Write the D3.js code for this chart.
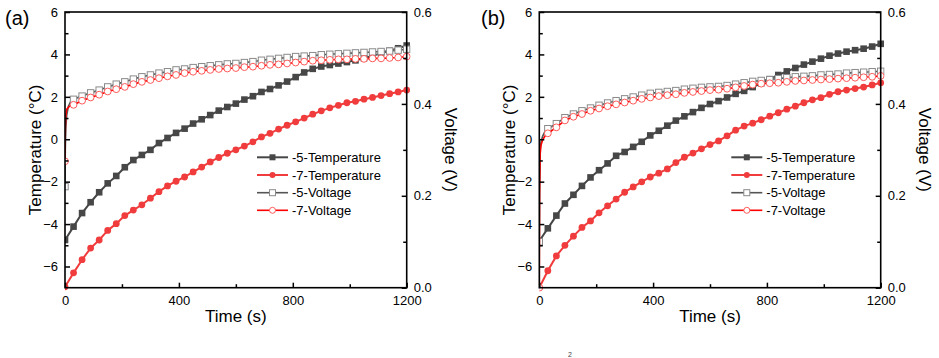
<!DOCTYPE html>
<html><head><meta charset="utf-8">
<script src="https://cdn.jsdelivr.net/npm/d3@7"></script>
<style>
body{margin:0;background:#fff}
text{font-family:"Liberation Sans",Arial,sans-serif}
</style>
</head><body>
<svg id="c" width="939" height="358"></svg>
<script>
// ---------- data ----------
const timeS = [0,30,60,90,120,150,180,210,240,270,300,330,360,390,420,450,480,510,540,570,600,630,660,690,720,750,780,810,840,870,900,930,960,990,1020,1050,1080,1110,1140,1170,1200];
const earlyTime = [0,1,3,6,12,20];

const tempA5 = [-4.75,-4.12,-3.48,-2.97,-2.5,-2.08,-1.73,-1.32,-0.98,-0.74,-0.5,-0.18,0.06,0.3,0.5,0.74,0.94,1.14,1.35,1.52,1.68,1.87,2.03,2.23,2.37,2.54,2.72,2.93,3.15,3.32,3.43,3.5,3.57,3.64,3.72,3.82,3.93,4.06,4.17,4.29,4.42];
const tempA7 = [-6.96,-6.3,-5.68,-5.13,-4.75,-4.3,-3.98,-3.6,-3.34,-3.09,-2.78,-2.47,-2.2,-1.98,-1.78,-1.54,-1.31,-1.07,-0.86,-0.66,-0.5,-0.32,-0.12,0.11,0.28,0.48,0.66,0.82,1.0,1.18,1.34,1.48,1.6,1.72,1.79,1.89,1.97,2.06,2.15,2.23,2.32];
const voltA5 = [0.22,0.41,0.417,0.424,0.43,0.437,0.443,0.448,0.454,0.459,0.463,0.467,0.47,0.474,0.476,0.479,0.481,0.483,0.485,0.487,0.488,0.49,0.492,0.495,0.497,0.499,0.501,0.503,0.504,0.505,0.507,0.508,0.509,0.51,0.511,0.512,0.513,0.514,0.515,0.517,0.519];
const voltA7 = [0.275,0.398,0.407,0.414,0.42,0.427,0.432,0.437,0.443,0.448,0.452,0.456,0.46,0.463,0.467,0.47,0.472,0.474,0.476,0.477,0.478,0.48,0.481,0.483,0.485,0.486,0.488,0.49,0.492,0.494,0.495,0.496,0.497,0.497,0.498,0.498,0.499,0.499,0.5,0.501,0.503];
const earlyVoltA5 = [0.22,0.3,0.35,0.375,0.395,0.405];
const earlyVoltA7 = [0.275,0.34,0.375,0.388,0.393,0.396];

const tempB5 = [-4.8,-4.2,-3.6,-3.03,-2.62,-2.2,-1.8,-1.46,-1.14,-0.78,-0.6,-0.36,-0.12,0.18,0.4,0.64,0.88,1.08,1.28,1.48,1.66,1.8,1.97,2.14,2.28,2.46,2.64,2.83,3.03,3.2,3.36,3.52,3.66,3.8,3.94,4.04,4.13,4.2,4.27,4.37,4.5];
const tempB7 = [-7.0,-6.2,-5.5,-5.0,-4.57,-4.16,-3.85,-3.47,-3.14,-2.82,-2.5,-2.25,-2.01,-1.78,-1.6,-1.4,-1.1,-0.85,-0.65,-0.45,-0.25,-0.08,0.16,0.43,0.62,0.76,0.92,1.09,1.25,1.42,1.56,1.72,1.86,1.96,2.12,2.24,2.32,2.39,2.46,2.56,2.66];
const voltB5 = [0.1,0.346,0.357,0.37,0.378,0.385,0.391,0.397,0.402,0.407,0.411,0.415,0.419,0.423,0.425,0.427,0.429,0.432,0.434,0.436,0.437,0.438,0.44,0.443,0.446,0.449,0.451,0.453,0.455,0.457,0.459,0.46,0.461,0.463,0.464,0.465,0.467,0.468,0.469,0.47,0.471];
const voltB7 = [0.0,0.336,0.349,0.364,0.372,0.378,0.385,0.39,0.395,0.399,0.403,0.407,0.411,0.414,0.417,0.419,0.421,0.424,0.426,0.428,0.43,0.431,0.433,0.436,0.439,0.442,0.444,0.445,0.446,0.448,0.45,0.451,0.452,0.453,0.454,0.455,0.456,0.457,0.458,0.459,0.461];
const earlyVoltB5 = [0.1,0.22,0.3,0.318,0.33,0.34];
const earlyVoltB7 = [0.0,0.2,0.29,0.31,0.322,0.33];

const tempTicks = [-6,-4,-2,0,2,4,6];
const tempMinor = [-5,-3,-1,1,3,5];
const voltTicks = [0,0.2,0.4,0.6];
const voltMinor = [0.1,0.3,0.5];
const timeTicks = [0,400,800,1200];
const timeMinor = [200,600,1000];

const seriesNames = ["-5-Temperature","-7-Temperature","-5-Voltage","-7-Voltage"];
const panelLabels = ["(a)","(b)"];
const xTitle = "Time (s)";
const yTitle = "Temperature (°C)";
const y2Title = "Voltage (V)";

// ---------- styles ----------
const C_T5 = "#474747", C_T7 = "#f03c3c", C_V5 = "#555555", C_V5m = "#8a8a8a", C_V7 = "#ff0000", C_V7m = "#ff5a5a";

const svg = d3.select("#c");

function drawPanel(left, right, label, t5, t7, v5, v7, ev5, ev7, labelX){
  const top = 12, bottom = 287.7;
  const x = d3.scaleLinear().domain([0,1200]).range([left,right]);
  const y = d3.scaleLinear().domain([-7,6]).range([bottom,top]);
  const y2 = d3.scaleLinear().domain([0,0.6]).range([bottom,top]);
  const g = svg.append("g");

  const lineT = d3.line().x(d=>x(d[0])).y(d=>y(d[1]));
  const lineV = d3.line().x(d=>x(d[0])).y(d=>y2(d[1]));
  const dT5 = timeS.map((t,i)=>[t,t5[i]]);
  const dT7 = timeS.map((t,i)=>[t,t7[i]]);
  const dV5 = timeS.map((t,i)=>[t,v5[i]]);
  const dV7 = timeS.map((t,i)=>[t,v7[i]]);
  const lV5 = earlyTime.map((t,i)=>[t,ev5[i]]).concat(dV5.slice(1));
  const lV7 = earlyTime.map((t,i)=>[t,ev7[i]]).concat(dV7.slice(1));

  const clipId = "clip"+Math.round(left);
  svg.append("clipPath").attr("id",clipId).append("rect")
    .attr("x",left).attr("y",top-4).attr("width",right-left+4).attr("height",bottom-top+8);
  const pg = g.append("g").attr("clip-path",`url(#${clipId})`);

  pg.append("path").datum(dT5).attr("d",lineT).attr("fill","none").attr("stroke",C_T5).attr("stroke-width",2);
  pg.selectAll(".mt5").data(dT5).enter().append("rect")
    .attr("x",d=>x(d[0])-3.3).attr("y",d=>y(d[1])-3.3).attr("width",6.6).attr("height",6.6).attr("fill",C_T5);
  pg.append("path").datum(dT7).attr("d",lineT).attr("fill","none").attr("stroke",C_T7).attr("stroke-width",2);
  pg.selectAll(".mt7").data(dT7).enter().append("circle")
    .attr("cx",d=>x(d[0])).attr("cy",d=>y(d[1])).attr("r",3.4).attr("fill",C_T7);

  pg.append("path").datum(lV5).attr("d",lineV).attr("fill","none").attr("stroke",C_V5).attr("stroke-width",1.6);
  pg.selectAll(".mv5").data(dV5).enter().append("rect")
    .attr("x",d=>x(d[0])-3.2).attr("y",d=>y2(d[1])-3.2).attr("width",6.4).attr("height",6.4)
    .attr("fill","#fff").attr("stroke",C_V5m).attr("stroke-width",1);
  pg.append("path").datum(lV7).attr("d",lineV).attr("fill","none").attr("stroke",C_V7).attr("stroke-width",1.6);
  pg.selectAll(".mv7").data(dV7).enter().append("circle")
    .attr("cx",d=>x(d[0])).attr("cy",d=>y2(d[1])).attr("r",3.4)
    .attr("fill","#fff").attr("stroke",C_V7m).attr("stroke-width",1);

  const axStyle = a => { a.select(".domain").remove(); a.selectAll("line").attr("stroke","#000").attr("stroke-width",1.5);
    a.selectAll("text").attr("font-size",13).attr("fill","#000").attr("font-family",'"Liberation Sans",Arial,sans-serif'); };
  g.append("g").attr("transform",`translate(${left},0)`)
    .call(d3.axisLeft(y).tickValues(tempTicks).tickSize(-5).tickPadding(7).tickFormat(d3.format("d"))).call(axStyle);
  g.append("g").attr("transform",`translate(${left},0)`)
    .call(d3.axisLeft(y).tickValues(tempMinor).tickSize(-3.5).tickFormat("")).call(axStyle);
  g.append("g").attr("transform",`translate(${right},0)`)
    .call(d3.axisRight(y2).tickValues(voltTicks).tickSize(-5).tickPadding(7).tickFormat(d3.format(".1f"))).call(axStyle);
  g.append("g").attr("transform",`translate(${right},0)`)
    .call(d3.axisRight(y2).tickValues(voltMinor).tickSize(-3.5).tickFormat("")).call(axStyle);
  g.append("g").attr("transform",`translate(0,${bottom})`)
    .call(d3.axisBottom(x).tickValues(timeTicks).tickSize(-5).tickPadding(8).tickFormat(d3.format("d"))).call(axStyle);
  g.append("g").attr("transform",`translate(0,${bottom})`)
    .call(d3.axisBottom(x).tickValues(timeMinor).tickSize(-3.5).tickFormat("")).call(axStyle);

  g.append("rect").attr("x",left).attr("y",top).attr("width",right-left).attr("height",bottom-top)
    .attr("fill","none").attr("stroke","#000").attr("stroke-width",1.6);

  g.append("text").attr("x",(left+right)/2).attr("y",322).attr("text-anchor","middle").attr("font-size",17).text(xTitle);
  g.append("text").attr("transform",`translate(${left-30},${(top+bottom)/2}) rotate(-90)`)
    .attr("text-anchor","middle").attr("dy","0.35em").attr("font-size",17).text(yTitle);
  g.append("text").attr("transform",`translate(${right+44},${(top+bottom)/2}) rotate(90)`)
    .attr("text-anchor","middle").attr("dy","0.35em").attr("font-size",17).text(y2Title);
  g.append("text").attr("x",labelX).attr("y",25).attr("font-size",20).text(label);

  const lx = left+192, rows = [157.3,175,192.7,210.3];
  const lg = g.append("g");
  const legendDefs = [
    {c:C_T5, w:2, m:"sq", fill:C_T5, st:"none"},
    {c:C_T7, w:2, m:"ci", fill:C_T7, st:"none"},
    {c:C_V5, w:1.6, m:"sq", fill:"#fff", st:C_V5m},
    {c:C_V7, w:1.6, m:"ci", fill:"#fff", st:C_V7m}
  ];
  legendDefs.forEach((d,i)=>{
    const yy = rows[i];
    lg.append("line").attr("x1",lx).attr("x2",lx+31).attr("y1",yy).attr("y2",yy).attr("stroke",d.c).attr("stroke-width",d.w);
    if(d.m==="sq") lg.append("rect").attr("x",lx+15.5-3).attr("y",yy-3).attr("width",6).attr("height",6).attr("fill",d.fill).attr("stroke",d.st);
    else lg.append("circle").attr("cx",lx+15.5).attr("cy",yy).attr("r",3).attr("fill",d.fill).attr("stroke",d.st);
    lg.append("text").attr("x",lx+35).attr("y",yy).attr("dy","0.35em").attr("font-size",13).text(seriesNames[i]);
  });
}

drawPanel(65, 406.7, panelLabels[0], tempA5, tempA7, voltA5, voltA7, earlyVoltA5, earlyVoltA7, 5);
drawPanel(539.3, 880.7, panelLabels[1], tempB5, tempB7, voltB5, voltB7, earlyVoltB5, earlyVoltB7, 481);

svg.append("text").attr("x",568).attr("y",357).attr("font-size",7).attr("fill","#444").text("2");
</script>
</body></html>
